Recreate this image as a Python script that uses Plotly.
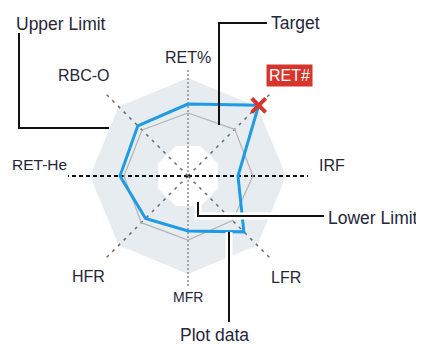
import math

import plotly.graph_objects as go

# the page body has an 8px margin, so the figure is drawn 8px smaller and
# every pixel position below is in window coordinates
PAGE_MARGIN = 8
W, H = 424 - PAGE_MARGIN, 344 - PAGE_MARGIN

# axes clockwise from the top
AXES = ["RET%", "RET#", "IRF", "LFR", "MFR", "HFR", "RET-He", "RBC-O"]
PLOT_DATA = [72, 100, 50, 79, 55, 60, 68, 71]
TARGET = [63, 66, 65, 63, 64, 66, 64, 65]
UPPER_LIMIT = [98, 98, 98, 98, 98, 98, 98, 98]
LOWER_LIMIT = [30, 30, 30, 30, 30, 30, 30, 30]
FLAGGED = ["RET#"]

BLUE = "#1f9be3"
RED = "#d6352c"
TEXT = "#26263a"
FONT = "Liberation Sans, Arial, sans-serif"

CENTER = (188, 176)
RADIUS = 120

# spoke style per axis: (length, color, width, dash)
SPOKES = {
    "RET%": (108, "#8c8c8c", 1.5, "2px,2px"),
    "MFR": (111, "#8c8c8c", 1.5, "2px,2px"),
    "IRF": (121, "#111111", 2, "4px,3px"),
    "RET-He": (121, "#111111", 2, "4px,3px"),
}
DIAG_SPOKE = (120, "#6a6a6a", 1.5, "3px,5px")


def angle(i):
    return i * 360 / len(AXES)


def closed(vals):
    return list(vals) + [vals[0]]


def paper(x, y):
    return (x - PAGE_MARGIN) / W, 1 - (y - PAGE_MARGIN) / H


def path(points):
    parts = []
    for k, (x, y) in enumerate(points):
        px, py = paper(x, y)
        parts.append(("M" if k == 0 else "L") + f" {px:.5f},{py:.5f}")
    return " ".join(parts)


thetas = [angle(i) for i in range(len(AXES))]
fig = go.Figure()

# upper limit band
fig.add_trace(go.Scatterpolar(
    r=closed(UPPER_LIMIT), theta=closed(thetas), mode="lines",
    fill="toself", fillcolor="#e7ecf1", line=dict(width=0),
    hoverinfo="skip", cliponaxis=False,
))

# lower limit (flat sides face the axes)
half = 180 / len(AXES)
low_r = [(LOWER_LIMIT[i] + LOWER_LIMIT[(i + 1) % len(AXES)]) / 2 / math.cos(math.radians(half))
         for i in range(len(AXES))]
low_t = [t + half for t in thetas]
fig.add_trace(go.Scatterpolar(
    r=closed(low_r), theta=closed(low_t), mode="lines",
    fill="toself", fillcolor="white", line=dict(width=0),
    hoverinfo="skip", cliponaxis=False,
))

# spokes
for i, name in enumerate(AXES):
    length, color, width, dash = SPOKES.get(name, DIAG_SPOKE)
    fig.add_trace(go.Scatterpolar(
        r=[0, length], theta=[thetas[i], thetas[i]], mode="lines",
        line=dict(color=color, width=width, dash=dash),
        hoverinfo="skip", cliponaxis=False,
    ))

# target
fig.add_trace(go.Scatterpolar(
    r=closed(TARGET), theta=closed(thetas), mode="lines",
    line=dict(color="#b4b4b4", width=1.2), name="Target", cliponaxis=False,
))

# plot data
fig.add_trace(go.Scatterpolar(
    r=closed(PLOT_DATA), theta=closed(thetas), mode="lines",
    line=dict(color=BLUE, width=3), name="Plot data", cliponaxis=False,
))

flag_idx = [AXES.index(n) for n in FLAGGED]
fig.add_trace(go.Scatterpolar(
    r=[PLOT_DATA[i] for i in flag_idx], theta=[thetas[i] for i in flag_idx],
    mode="markers",
    marker=dict(symbol="x-thin", size=14, line=dict(color=RED, width=4)),
    cliponaxis=False,
))

# axis labels (pixel centres)
LABEL_POS = {
    "RET%": (188, 57, 16),
    "RET#": (289, 76, 16),
    "IRF": (332, 165, 16),
    "LFR": (286, 277, 16),
    "MFR": (188, 297, 14),
    "HFR": (88, 276, 16),
    "RET-He": (39, 164, 15.5),
    "RBC-O": (84, 76, 16),
}
annotations = []
for name in AXES:
    x, y, size = LABEL_POS[name]
    ax, ay = paper(x, y)
    flagged = name in FLAGGED
    annotations.append(dict(
        x=ax, y=ay, xref="paper", yref="paper", text=name, showarrow=False,
        xanchor="center", yanchor="middle",
        font=dict(family=FONT, size=size, color="white" if flagged else TEXT),
        bgcolor=RED if flagged else None, borderpad=2,
    ))

# callouts
CALLOUTS = [
    ("Upper Limit", (61, 24), "center", [(19, 33), (19, 128), (109, 128)], False),
    ("Target", (269, 23), "left", [(267, 23), (219, 23), (219, 125)], False),
    ("Lower Limit", (326, 218), "left", [(198, 202), (198, 216), (324, 216)], True),
    ("Plot data", (214, 335), "center", [(229, 232), (229, 322)], True),
]
shapes = []
for text, (x, y), anchor, pts, halo in CALLOUTS:
    ax, ay = paper(x, y)
    annotations.append(dict(
        x=ax, y=ay, xref="paper", yref="paper", text=text, showarrow=False,
        xanchor=anchor, yanchor="middle",
        font=dict(family=FONT, size=17.5, color=TEXT),
    ))
    if halo:
        shapes.append(dict(type="path", path=path(pts), xref="paper", yref="paper",
                           line=dict(color="white", width=7), layer="above"))
    shapes.append(dict(type="path", path=path(pts), xref="paper", yref="paper",
                       line=dict(color="#111111", width=2), layer="above"))

x0, y0 = paper(CENTER[0] - RADIUS, CENTER[1] + RADIUS)
x1, y1 = paper(CENTER[0] + RADIUS, CENTER[1] - RADIUS)
fig.update_layout(
    width=W, height=H,
    margin=dict(l=0, r=0, t=0, b=0),
    paper_bgcolor="white",
    showlegend=False,
    polar=dict(
        domain=dict(x=[x0, x1], y=[y0, y1]),
        bgcolor="rgba(0,0,0,0)",
        radialaxis=dict(range=[0, RADIUS], visible=False),
        angularaxis=dict(direction="clockwise", rotation=90, showgrid=False,
                         showline=False, showticklabels=False, ticks=""),
    ),
    annotations=annotations,
    shapes=shapes,
)

fig.write_html("out.html")
